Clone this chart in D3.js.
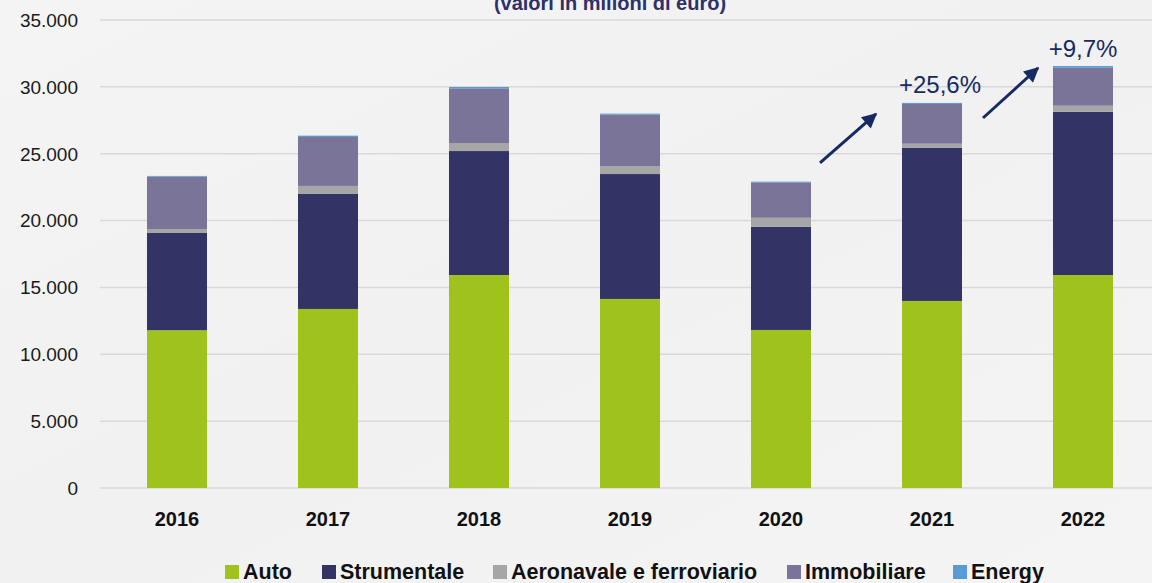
<!DOCTYPE html>
<html>
<head>
<meta charset="utf-8">
<script src="https://cdn.jsdelivr.net/npm/d3@7"></script>
<style>
  html, body { margin: 0; padding: 0; background: #f2f2f2; }
  svg { display: block; font-family: "Liberation Sans", Arial, sans-serif; }
</style>
</head>
<body>
<div id="chart"></div>
<script>
  // Data (millions of euro)
  var years = ["2016", "2017", "2018", "2019", "2020", "2021", "2022"];
  var seriesNames = ["Auto", "Strumentale", "Aeronavale e ferroviario", "Immobiliare", "Energy"];
  var auto = [11800, 13390, 15930, 14140, 11820, 13990, 15930];
  var strumentale = [7270, 8600, 9270, 9340, 7720, 11460, 12210];
  var aeronavale = [300, 600, 600, 600, 670, 300, 450];
  var immobiliare = [3910, 3660, 4090, 3840, 2650, 2970, 2840];
  var energy = [60, 100, 100, 80, 50, 80, 130];
  var yTicks = [0, 5000, 10000, 15000, 20000, 25000, 30000, 35000];
  var growthLabels = [{ year: "2021", label: "+25,6%" }, { year: "2022", label: "+9,7%" }];
  var title = "(valori in milioni di euro)";

  var colors = ["#9fc21c", "#333365", "#a6a6a6", "#7b7499", "#5b9bd5"];
  var navy = "#172a62";

  var width = 1152, height = 583;

  // Build stack rows
  var seriesValues = [auto, strumentale, aeronavale, immobiliare, energy];
  var rows = years.map(function(y, i) {
    var row = { year: y };
    seriesNames.forEach(function(name, s) { row[name] = seriesValues[s][i]; });
    return row;
  });
  var stacked = d3.stack().keys(seriesNames)(rows);

  var svg = d3.select("#chart").append("svg")
    .attr("width", width)
    .attr("height", height);

  // Background
  var defs = svg.append("defs");
  var grad = defs.append("linearGradient")
    .attr("id", "bg")
    .attr("x1", "0").attr("y1", "0").attr("x2", "1").attr("y2", "1");
  grad.append("stop").attr("offset", "0%").attr("stop-color", "#f4f4f4");
  grad.append("stop").attr("offset", "50%").attr("stop-color", "#f1f1f1");
  grad.append("stop").attr("offset", "100%").attr("stop-color", "#f4f4f4");
  svg.append("rect").attr("width", width).attr("height", height).attr("fill", "url(#bg)");

  var x = d3.scaleBand()
    .domain(years)
    .range([101, 1159])
    .paddingInner(0.6026)
    .paddingOuter(0.3046);

  var y = d3.scaleLinear()
    .domain([0, 35000])
    .range([488, 20]);

  var fmt = function(v) { return d3.format(",")(v).replace(/,/g, "."); };

  // Grid lines
  svg.append("g")
    .selectAll("line")
    .data(yTicks)
    .enter().append("line")
    .attr("x1", 100)
    .attr("x2", width)
    .attr("y1", function(d) { return y(d); })
    .attr("y2", function(d) { return y(d); })
    .attr("stroke", "#d9d9d9")
    .attr("stroke-width", 1.5);

  // Y axis labels
  svg.append("g")
    .selectAll("text")
    .data(yTicks)
    .enter().append("text")
    .attr("x", 78)
    .attr("y", function(d) { return y(d); })
    .attr("dy", "0.36em")
    .attr("text-anchor", "end")
    .attr("font-size", 19)
    .attr("fill", "#1a1a1a")
    .text(fmt);

  // Bars
  svg.append("g")
    .selectAll("g")
    .data(stacked)
    .enter().append("g")
    .attr("fill", function(d, i) { return colors[i]; })
    .selectAll("rect")
    .data(function(d) { return d; })
    .enter().append("rect")
    .attr("x", function(d) { return x(d.data.year); })
    .attr("y", function(d) { return y(d[1]); })
    .attr("width", x.bandwidth())
    .attr("height", function(d) { return y(d[0]) - y(d[1]); });

  // X axis labels
  svg.append("g")
    .selectAll("text")
    .data(years)
    .enter().append("text")
    .attr("x", function(d) { return x(d) + x.bandwidth() / 2; })
    .attr("y", 526)
    .attr("text-anchor", "middle")
    .attr("font-size", 20)
    .attr("font-weight", "bold")
    .attr("fill", "#111")
    .text(function(d) { return d; });

  // Title (the slide crops its upper part)
  svg.append("text")
    .attr("x", 610)
    .attr("y", 10)
    .attr("text-anchor", "middle")
    .attr("font-size", 20)
    .attr("font-weight", "bold")
    .attr("fill", "#2e3168")
    .text(title);

  // Growth arrows
  defs.append("marker")
    .attr("id", "arrow")
    .attr("viewBox", "0 0 10 10")
    .attr("refX", 9)
    .attr("refY", 5)
    .attr("markerWidth", 5.5)
    .attr("markerHeight", 5)
    .attr("markerUnits", "strokeWidth")
    .attr("orient", "auto")
    .append("path")
    .attr("d", "M0,0 L10,5 L0,10 z")
    .attr("fill", navy);

  var totals = rows.map(function(r) {
    return d3.sum(seriesNames, function(n) { return r[n]; });
  });

  // arrow placement relative to the bar it points at
  var arrowGeom = [
    { x1: -82, y1: 60, x2: -26, y2: 11, tx: 8, ty: -10 },
    { x1: -70, y1: 52, x2: -15, y2: 2, tx: 0, ty: -9 }
  ];

  growthLabels.forEach(function(g, k) {
    var i = years.indexOf(g.year);
    var bx = x(g.year);
    var top = y(totals[i]);
    var a = arrowGeom[k];

    svg.append("line")
      .attr("x1", bx + a.x1)
      .attr("y1", top + a.y1)
      .attr("x2", bx + a.x2)
      .attr("y2", top + a.y2)
      .attr("stroke", navy)
      .attr("stroke-width", 3)
      .attr("marker-end", "url(#arrow)");

    svg.append("text")
      .attr("x", bx + x.bandwidth() / 2 + a.tx)
      .attr("y", top + a.ty)
      .attr("text-anchor", "middle")
      .attr("font-size", 24)
      .attr("fill", navy)
      .text(g.label);
  });

  // Legend
  var legendX = [243, 340, 511, 805, 971];
  var legend = svg.append("g")
    .selectAll("g")
    .data(seriesNames)
    .enter().append("g")
    .attr("transform", function(d, i) { return "translate(" + legendX[i] + ",0)"; });

  legend.append("rect")
    .attr("x", -18)
    .attr("y", 565)
    .attr("width", 14)
    .attr("height", 14)
    .attr("fill", function(d, i) { return colors[i]; });

  legend.append("text")
    .attr("x", 0)
    .attr("y", 579)
    .attr("font-size", 21.5)
    .attr("font-weight", "bold")
    .attr("fill", "#111")
    .text(function(d) { return d; });
</script>
</body>
</html>
